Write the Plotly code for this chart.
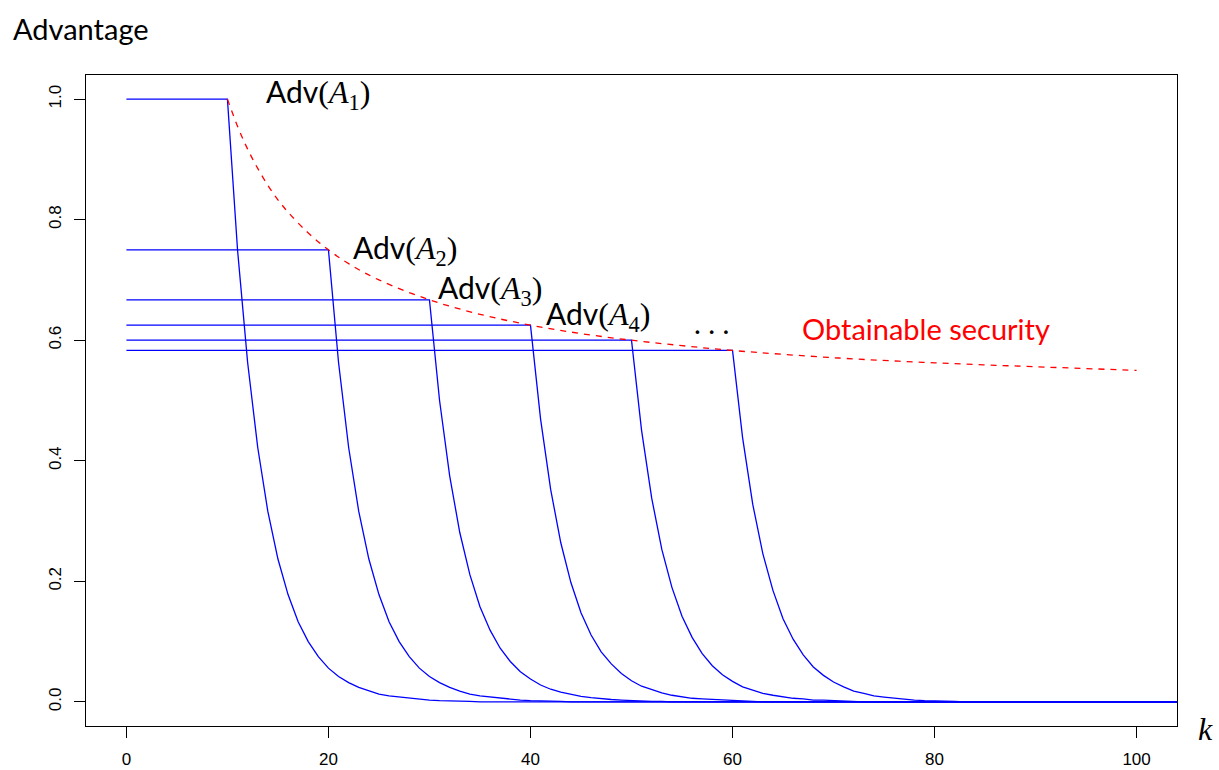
import plotly.graph_objects as go

# ---- data ----
k_start = [10, 20, 30, 40, 50, 60]          # k where each Adv(A_i) starts dropping
adv_level = [1.0, 0.75, 0.667, 0.625, 0.6, 0.583]   # flat level of each curve
k_end = 104

# values at k = k_start, k_start+1, ... (then 0 afterwards)
decay_A1 = [1.0, 0.75, 0.563, 0.422, 0.316, 0.237, 0.178, 0.133, 0.100, 0.075, 0.056, 0.042,
            0.032, 0.024, 0.018, 0.013, 0.010, 0.008, 0.006, 0.004, 0.003, 0.002, 0.002, 0.001, 0.001, 0.0]
decay_A2 = [0.75, 0.563, 0.422, 0.316, 0.237, 0.178, 0.133, 0.100, 0.075, 0.056, 0.042, 0.032,
            0.024, 0.018, 0.013, 0.010, 0.008, 0.006, 0.004, 0.003, 0.002, 0.002, 0.001, 0.001, 0.0]
decay_A3 = [0.667, 0.500, 0.375, 0.281, 0.211, 0.158, 0.119, 0.089, 0.067, 0.050, 0.038, 0.028,
            0.021, 0.016, 0.012, 0.009, 0.007, 0.005, 0.004, 0.003, 0.002, 0.002, 0.001, 0.001, 0.0]
decay_A4 = [0.625, 0.469, 0.352, 0.264, 0.198, 0.148, 0.111, 0.083, 0.063, 0.047, 0.035, 0.026,
            0.020, 0.015, 0.011, 0.008, 0.006, 0.005, 0.004, 0.003, 0.002, 0.001, 0.001, 0.0]
decay_A5 = [0.6, 0.45, 0.338, 0.253, 0.190, 0.142, 0.107, 0.080, 0.060, 0.045, 0.034, 0.025,
            0.019, 0.014, 0.011, 0.008, 0.006, 0.005, 0.003, 0.003, 0.002, 0.001, 0.001, 0.0]
decay_A6 = [0.583, 0.438, 0.328, 0.246, 0.185, 0.138, 0.104, 0.078, 0.058, 0.044, 0.033, 0.025,
            0.018, 0.014, 0.010, 0.008, 0.006, 0.004, 0.003, 0.002, 0.002, 0.001, 0.001, 0.0]
decays = [decay_A1, decay_A2, decay_A3, decay_A4, decay_A5, decay_A6]

sec_k = [10, 11, 12, 13, 14, 15, 16, 18, 20, 22, 25, 30, 35, 40, 45, 50, 55, 60, 70, 80, 90, 100]
sec_v = [1.0, 0.955, 0.917, 0.885, 0.857, 0.833, 0.8125, 0.778, 0.75, 0.727, 0.70, 0.667,
         0.643, 0.625, 0.611, 0.60, 0.591, 0.583, 0.571, 0.5625, 0.556, 0.55]

x_ticks = [0, 20, 40, 60, 80, 100]
y_ticks = [0.0, 0.2, 0.4, 0.6, 0.8, 1.0]

# ---- figure ----
fig = go.Figure()
BLUE = "#0000FF"
RED = "#FF0000"
SERIF = "Liberation Serif"
SANS = "Lato"

for ks, lev, dec in zip(k_start, adv_level, decays):
    xs = [0] + list(range(ks, ks + len(dec))) + [k_end]
    ys = [lev] + dec + [0.0]
    fig.add_trace(go.Scatter(x=xs, y=ys, mode="lines",
                             line=dict(color=BLUE, width=1.3), hoverinfo="skip",
                             showlegend=False))

fig.add_trace(go.Scatter(x=sec_k, y=sec_v, mode="lines",
                         line=dict(color=RED, width=1.3, dash="6px,6px", shape="spline"),
                         hoverinfo="skip", showlegend=False))


def lab(i):
    return ('Adv<span style="font-family:%s;font-size:32px">(<i>A</i><sub>%d</sub>)</span>'
            % (SERIF, i))


label_pos = [(13.6, 1.008), (22.2, 0.749), (30.6, 0.684), (41.3, 0.641)]
for i, (lx, ly) in enumerate(label_pos):
    fig.add_annotation(x=lx, y=ly, xref="x", yref="y", text=lab(i + 1), showarrow=False,
                       xanchor="left", yanchor="middle",
                       font=dict(family=SANS, size=30, color="black"))

fig.add_annotation(x=56.0, y=0.629, xref="x", yref="y", text=". . .", showarrow=False,
                   xanchor="left", yanchor="middle",
                   font=dict(family=SANS, size=29, color="black"))
fig.add_annotation(x=66.67, y=0.62, xref="x", yref="y", text="Obtainable security",
                   showarrow=False, xanchor="left", yanchor="middle",
                   font=dict(family=SANS, size=29, color=RED))
fig.add_annotation(x=1.0257, y=-0.005, xref="paper", yref="paper", text="<i>k</i>",
                   showarrow=False, xanchor="center", yanchor="middle",
                   font=dict(family=SERIF, size=32, color="black"))

axis_common = dict(showline=True, linecolor="black", linewidth=1.3, mirror=True,
                   ticks="outside", ticklen=11, tickwidth=1.3, tickcolor="black",
                   showgrid=False, zeroline=False, automargin=False,
                   tickfont=dict(family="Liberation Sans", size=17, color="black"))

fig.update_layout(
    width=1219, height=770,
    margin=dict(l=86, r=42, t=75, b=44, autoexpand=False),
    plot_bgcolor="white", paper_bgcolor="white",
    title=dict(text="Advantage", x=13 / 1219, xanchor="left", xref="container",
               y=1 - 30 / 770, yanchor="middle", yref="container",
               font=dict(family=SANS, size=29, color="black")),
    xaxis=dict(range=[-4, 104], tickvals=x_ticks, ticktext=[str(v) for v in x_ticks],
               ticklabelstandoff=6, **axis_common),
    yaxis=dict(range=[-0.04, 1.04], tickvals=y_ticks, ticktext=["%.1f" % v for v in y_ticks],
               tickangle=-90, ticklabelstandoff=6, **axis_common),
)

fig.write_html("out.html", config={"displayModeBar": False},
               post_script="document.body.style.margin='0';")
